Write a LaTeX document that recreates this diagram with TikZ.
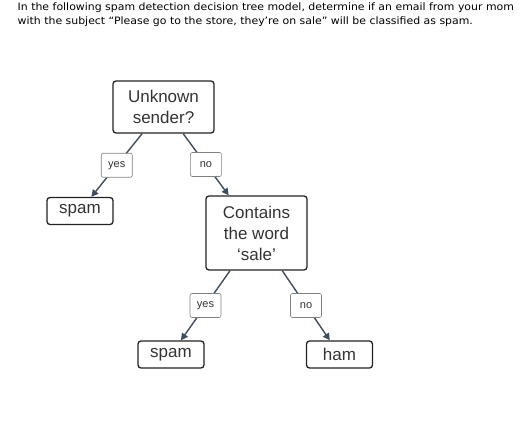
\documentclass[tikz,border=0pt]{standalone}
\usepackage{fontspec}
\setmainfont{Liberation Sans}
\newfontfamily\headfont[FakeStretch=1.07]{DejaVu Sans}
\usetikzlibrary{arrows.meta}

\definecolor{edgegray}{HTML}{3E4E60}
\definecolor{boxgray}{HTML}{222222}
\definecolor{textgray}{HTML}{333333}

\tikzset{
	decision/.style={draw=boxgray, line width=1.3pt, rounded corners=3pt, align=center, text=textgray,
		font=\fontsize{17}{21}\selectfont, minimum width=101pt, inner sep=2pt},
	leaf/.style={decision, minimum width=66pt, minimum height=27pt},
	answer/.style={draw=gray, line width=.6pt, rounded corners=2pt, fill=white, text=textgray,
		font=\fontsize{11}{13}\selectfont, minimum width=31pt, minimum height=24pt, inner sep=1pt},
	branch/.style={draw=edgegray, line width=1.4pt, -{Triangle[length=7pt,width=7pt]}}
}

\begin{document}
\begin{tikzpicture}[x=1pt, y=-1pt]
	
	\useasboundingbox (0,0) rectangle (523,434);
	
	\node (question) [anchor=north west, align=left, inner sep=0pt, font=\headfont\fontsize{10.2}{13.5}\selectfont]
		at (17.5,3) {In the following spam detection decision tree model, determine if an email from your mom\\
		with the subject “Please go to the store, they’re on sale” will be classified as spam.};
	
	\node (sender) [decision, minimum height=52pt] at (163.5,107) {Unknown\\sender?};
	\node (spamA) [leaf] at (80,211) {spam};
	\node (sale) [decision, minimum height=74pt] at (256.5,233) {Contains\\the word\\‘sale’};
	\node (spamB) [leaf] at (171,354.5) {spam};
	\node (ham) [leaf] at (339.5,354.5) {ham};
	
	\draw[branch] (sender) -- node[answer] {yes} (spamA);
	\draw[branch] (sender) -- node[answer] {no} (sale);
	
	\draw[branch] (sale) -- node[answer] {yes} (spamB);
	\draw[branch] (sale) -- node[answer] {no} (ham);
	
\end{tikzpicture}
\end{document}
